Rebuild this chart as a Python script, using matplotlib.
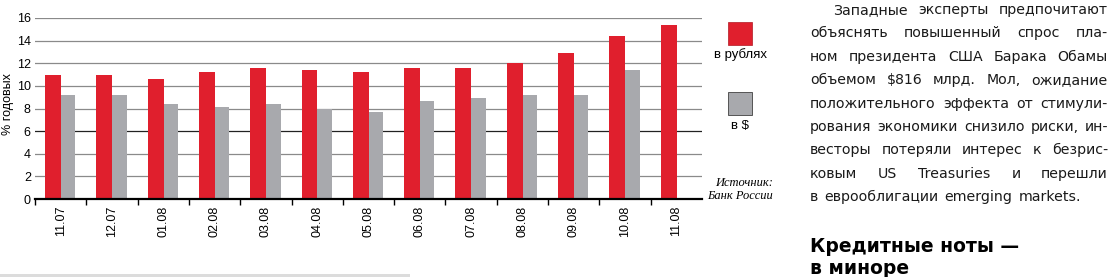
import numpy as np
import matplotlib
matplotlib.use("Agg")
import matplotlib.pyplot as plt
from matplotlib.patches import Rectangle

# данные
months = ["11.07", "12.07", "01.08", "02.08", "03.08", "04.08", "05.08",
          "06.08", "07.08", "08.08", "09.08", "10.08", "11.08"]
rub = [11.0, 11.0, 10.6, 11.25, 11.55, 11.4, 11.25, 11.55, 11.6, 12.05, 12.95, 14.45, 15.35]
usd = [9.15, 9.2, 8.4, 8.15, 8.4, 8.0, 7.65, 8.7, 8.9, 9.2, 9.15, 11.4, np.nan]
yticks = [0, 2, 4, 6, 8, 10, 12, 14, 16]

para = ["Западные эксперты предпочитают",
        "объяснять повышенный спрос пла-",
        "ном президента США Барака Обамы",
        "объемом $816 млрд. Мол, ожидание",
        "положительного эффекта от стимули-",
        "рования экономики снизило риски, ин-",
        "весторы потеряли интерес к безрис-",
        "ковым US Treasuries и перешли",
        "в еврооблигации emerging markets."]
title = ["Кредитные ноты —", "в миноре"]

RED = "#e01f2d"
GRAY = "#a8a9ad"

plt.rcParams['font.family'] = ['Liberation Sans', 'DejaVu Sans']

W, H = 1110, 277
fig = plt.figure(figsize=(W / 100, H / 100), dpi=100)
ax = fig.add_axes([35 / W, 1 - 199 / H, 667 / W, 181 / H])

x = np.arange(len(months))
ax.bar(x + 0.35, rub, width=0.31, color=RED, zorder=3)
ax.bar(x + 0.645, usd, width=0.28, color=GRAY, zorder=3)

ax.set_xlim(0, len(months))
ax.set_ylim(0, 16)
ax.set_yticks(yticks)
ax.set_yticklabels([str(v) for v in yticks], fontsize=9)
for v in yticks[1:]:
    ax.axhline(v, color="#222222" if v == 6 else "#8a8a8a", lw=0.9, zorder=1)
ax.tick_params(axis="y", length=0, pad=3)
ax.set_xticks(x + 0.5)
ax.set_xticklabels(months, rotation=90, fontsize=9)
ax.set_xticks(np.arange(len(months)), minor=True)
ax.tick_params(axis="x", which="major", length=0, pad=5)
ax.tick_params(axis="x", which="minor", length=4, width=1, direction="out", color="black")
for s in ["top", "right", "left"]:
    ax.spines[s].set_visible(False)
ax.spines["bottom"].set_linewidth(1.6)
ax.spines["bottom"].set_zorder(4)
ax.set_ylabel("% годовых", fontsize=9)
ax.yaxis.set_label_coords(-21 / 667, 0.525)

# легенда
fig.patches.append(Rectangle((728 / W, 1 - 45 / H), 24 / W, 23 / H, transform=fig.transFigure,
                             facecolor=RED, edgecolor="#b01822", lw=0.5))
fig.text(740 / W, 1 - 55 / H, "в рублях", ha="center", va="center", fontsize=9.5)
fig.patches.append(Rectangle((728 / W, 1 - 115 / H), 24 / W, 23 / H, transform=fig.transFigure,
                             facecolor=GRAY, edgecolor="#555555", lw=0.7))
fig.text(740 / W, 1 - 126 / H, "в $", ha="center", va="center", fontsize=9.5)

fig.text(773 / W, 1 - 183 / H, "Источник:", ha="right", va="center", fontsize=9,
         style="italic", family="Liberation Serif")
fig.text(773 / W, 1 - 196 / H, "Банк России", ha="right", va="center", fontsize=9,
         style="italic", family="Liberation Serif")

# нижняя серая полоса
fig.patches.append(Rectangle((0, 0), 410 / W, 3 / H, transform=fig.transFigure,
                             facecolor="#dcdcdc", edgecolor="none"))

# текст справа, по ширине
renderer = fig.canvas.get_renderer()
left, right = 810, 1108
fam = ['Liberation Sans Narrow', 'DejaVu Sans']

# подбор кегля по самой плотной строке
probe = [fig.text(0, 0, w, fontsize=10, family=fam) for w in para[5].split(" ")]
sw = sum(o.get_window_extent(renderer).width for o in probe)
for o in probe:
    o.remove()
fs = min(10 * (right - left - 4 * 5.5) / sw, 13)

body = dict(fontsize=fs, va="center", color="#1a1a1a", family=fam)
for i, line in enumerate(para):
    y = 1 - (10 + i * 23.4) / H
    x0 = 833 if i == 0 else left
    words = line.split(" ")
    objs = [fig.text(0, y, w, **body) for w in words]
    widths = [o.get_window_extent(renderer).width for o in objs]
    gap = (right - x0 - sum(widths)) / max(len(words) - 1, 1)
    if i == len(para) - 1:
        gap = 6
    gap = max(gap, 2.5)
    cx = x0
    for o, w in zip(objs, widths):
        o.set_x(cx / W)
        cx += w + gap

for i, line in enumerate(title):
    fig.text(left / W, 1 - (247 + i * 21) / H, line, fontsize=13.5, fontweight="bold",
             va="center", color="black", family="DejaVu Sans")

fig.savefig("out.png", dpi=100)
